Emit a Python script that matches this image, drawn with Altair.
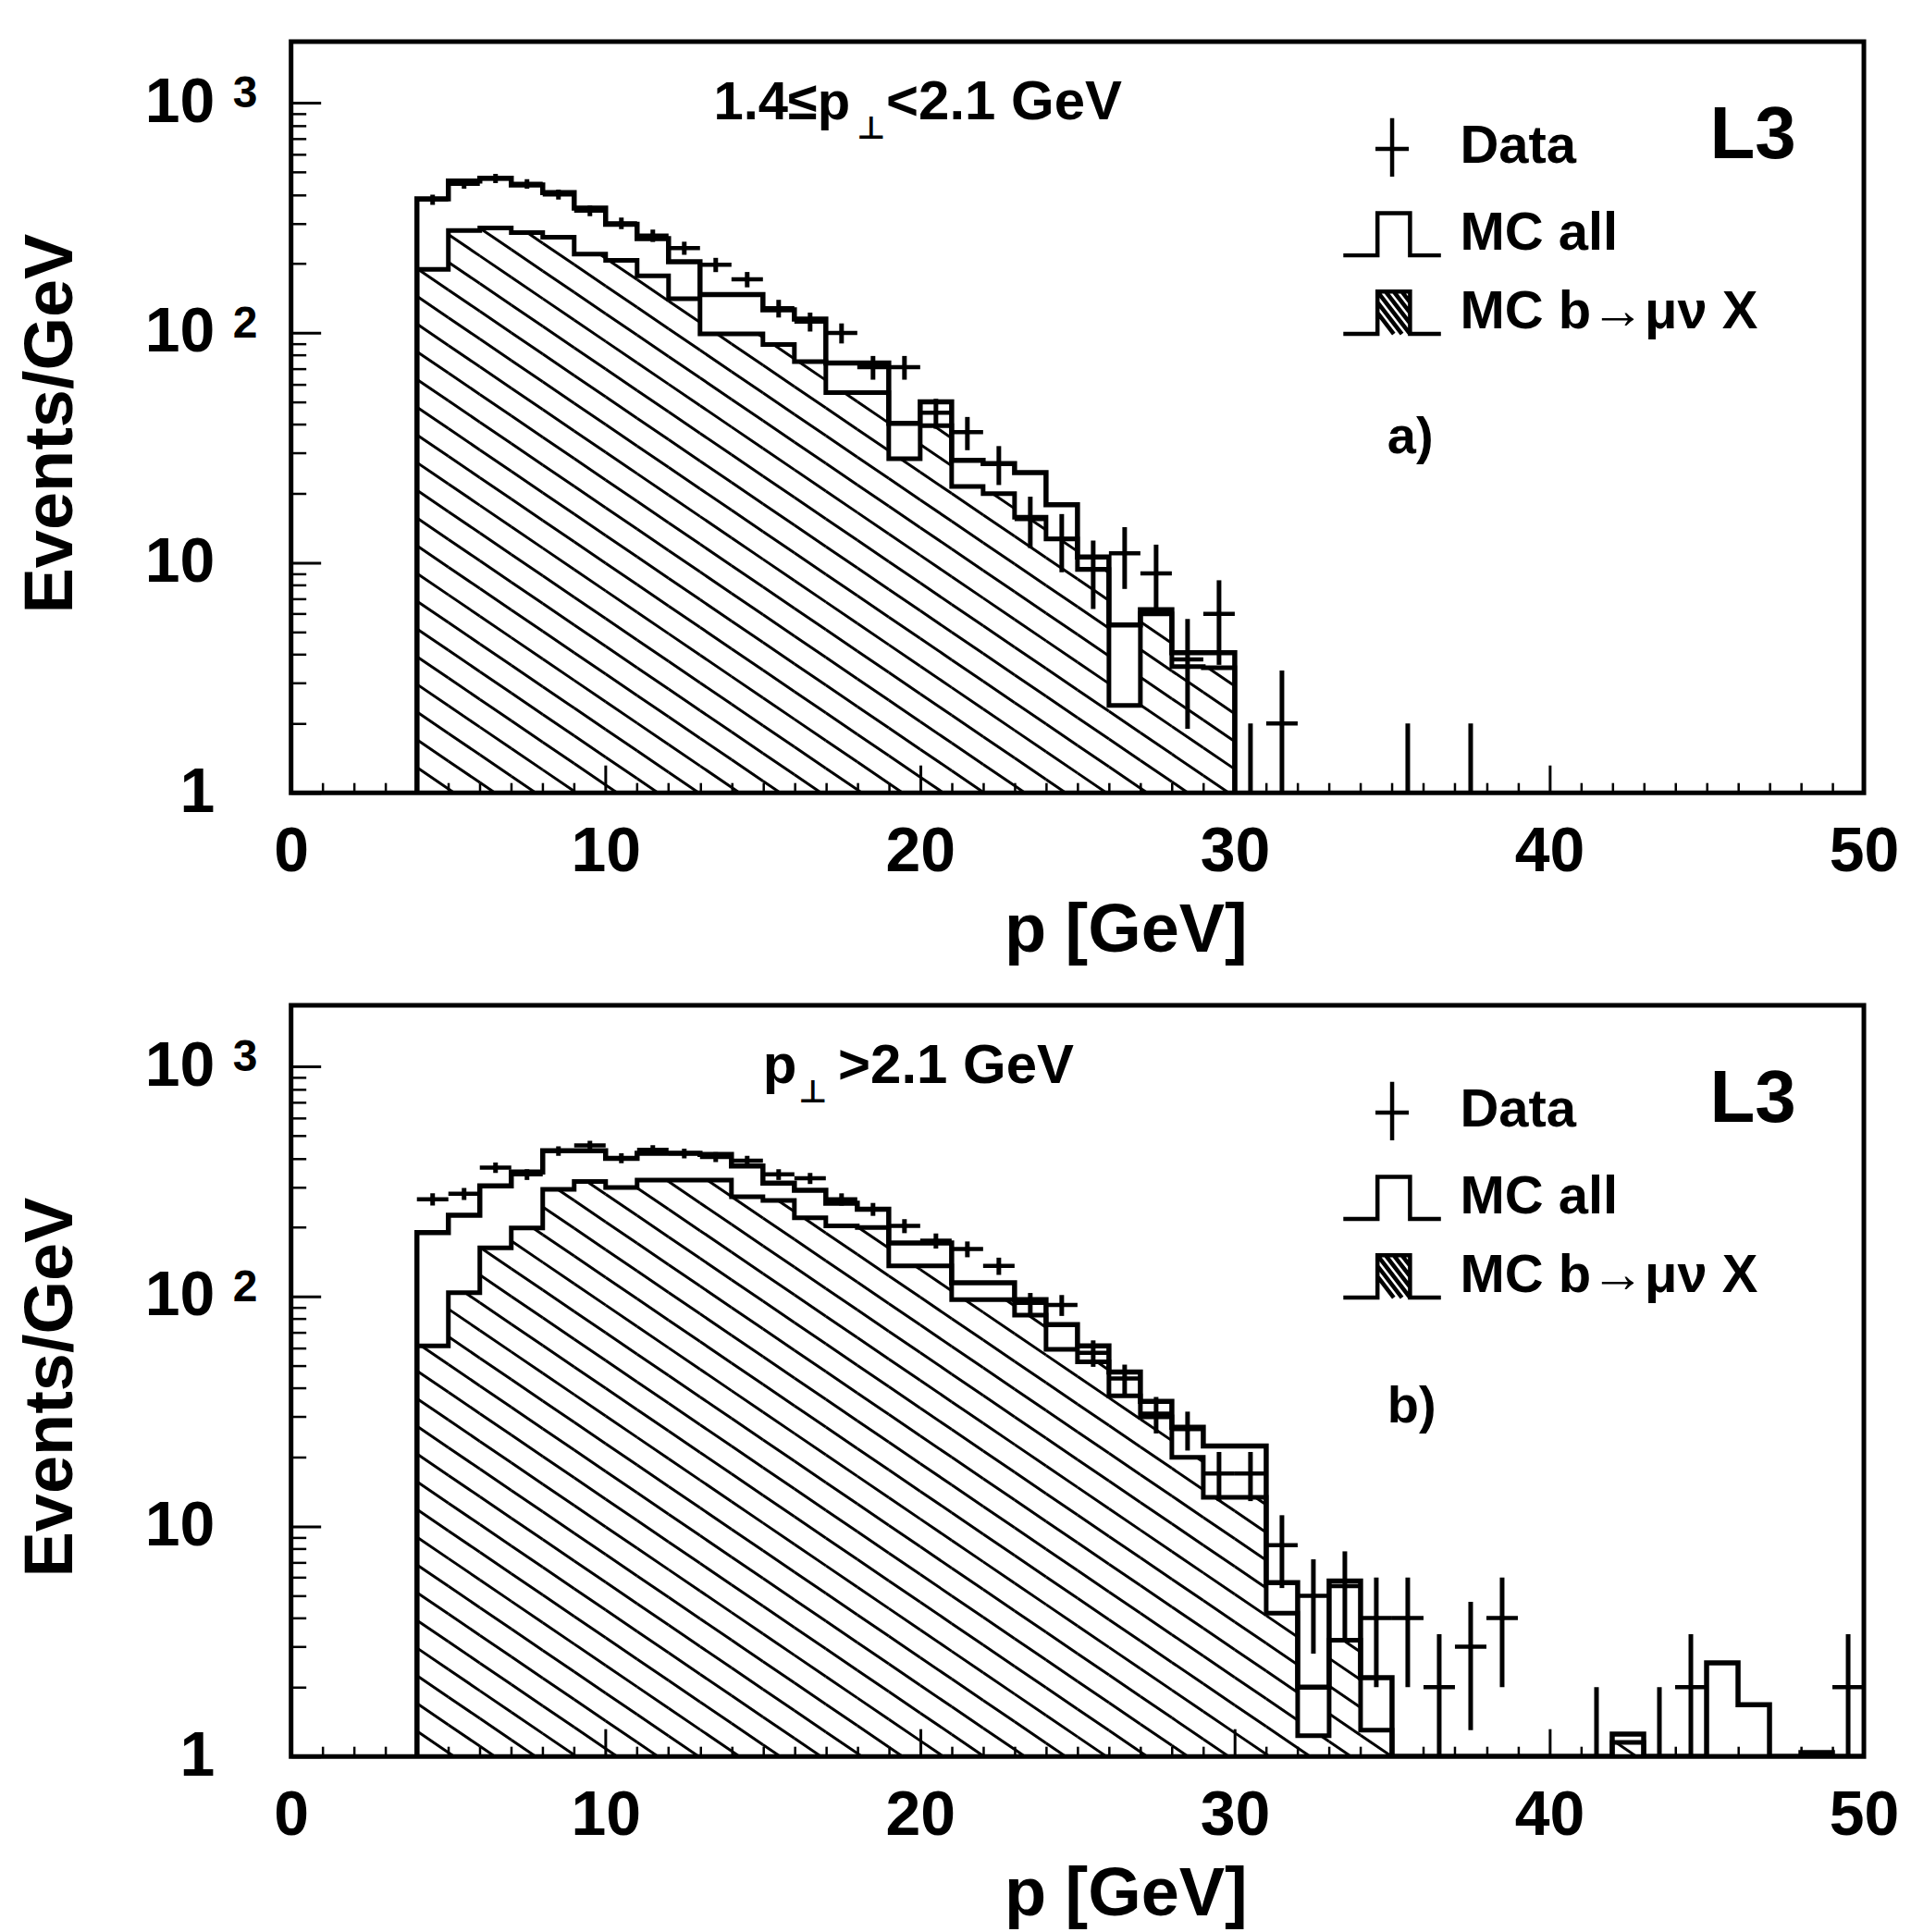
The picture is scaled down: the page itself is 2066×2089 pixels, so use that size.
import numpy as np
import pandas as pd
import altair as alt

FONT = "Liberation Sans"
FLOOR = 1.0        # bottom of the log axis
YMAX = 1850.0      # top of the log axis
PMAX = 50.0
W, H = 1702, 813   # plot area of each panel

# ---------------- values (Events/GeV, 1-GeV bins) ----------------
# panel a) 1.4 <= p_perp < 2.1 GeV, bins start at 4 GeV
a_first_edge = 4
a_mc_all = [383, 458, 471, 440, 408, 349, 297, 257, 204, 147, 147, 126, 115,
            74, 74, 40.4, 50.1, 27.9, 27, 24.7, 17.9, 10.6, 5.37, 6.26, 4.07, 4.07]
a_mc_b = [189, 279, 286, 273, 261, 220, 207, 177, 141, 99, 99, 89, 75,
          55, 55, 28.4, 39.5, 21.5, 20, 15.8, 12.7, 9.35, 2.4, 6.0, 3.54, 3.5]
a_data_p = [4.5, 5.5, 6.5, 7.5, 8.5, 9.5, 10.5, 11.5, 12.5, 13.5, 14.5, 15.5, 16.5,
            17.5, 18.5, 19.5, 20.5, 21.5, 22.5, 23.5, 24.5, 25.5, 26.5, 27.5, 28.5,
            29.5, 30.5, 31.5, 35.5, 37.5]
a_data = [380, 445, 470, 445, 400, 340, 300, 265, 234, 198, 171, 128, 112,
          100, 71, 71, 45, 37, 27, 15.5, 12.7, 9.4, 11, 9, 3.8,
          6, 1, 2, 1, 1]
a_data_err = [19.5, 21, 21.7, 21, 20, 18.4, 17.3, 16.3, 15.3, 14.1, 13.1, 11.3, 10.6,
              10, 8.4, 8.4, 6.7, 6.1, 5.2, 3.9, 3.6, 3.1, 3.3, 3, 1.9,
              2.4, 1, 1.4, 1, 1]

# panel b) p_perp > 2.1 GeV, bins start at 4 GeV (0 = empty bin)
b_first_edge = 4
b_mc_all = [190, 226, 303, 348, 431, 431, 399, 420, 420, 415,
            370, 312, 290, 255, 240, 171, 171, 115, 115, 97,
            75.5, 61, 47, 35, 27, 22.4, 22.4, 5.7, 2.0, 5.8,
            2.2, 0, 0, 0, 0, 0, 0, 0, 1.25, 0,
            0, 2.55, 1.68, 0, 1.04, 0]
b_mc_b = [61, 104, 163, 199, 293, 317, 298, 321, 321, 321,
          272, 262, 220, 203, 200, 136, 136, 97, 97, 83,
          59, 52, 37, 30, 20, 13.4, 13.4, 4.2, 1.23, 3.2,
          1.3, 0, 0, 0, 0, 0, 0, 0, 1.15, 0,
          0, 0, 0, 0, 0, 0]
b_data_p = [4.5, 5.5, 6.5, 7.5, 8.5, 9.5, 10.5, 11.5, 12.5, 13.5,
            14.5, 15.5, 16.5, 17.5, 18.5, 19.5, 20.5, 21.5, 22.5, 23.5,
            24.5, 25.5, 26.5, 27.5, 28.5, 29.5, 30.5, 31.5, 32.5, 33.5,
            34.5, 35.5, 36.5, 37.5, 38.5, 41.5, 43.5, 44.5, 49.5]
b_data = [265, 280, 364, 340, 430, 455, 400, 435, 420, 405,
          390, 340, 327, 265, 240, 203, 175, 161, 136, 94,
          92, 57, 44, 31, 26.5, 17, 17, 8.3, 5, 5.5,
          4, 4, 2, 3, 4, 1, 1, 2, 2]
b_data_err = [16.3, 16.7, 19.1, 18.4, 20.7, 21.3, 20, 20.9, 20.5, 20.1,
              19.7, 18.4, 18.1, 16.3, 15.5, 14.2, 13.2, 12.7, 11.7, 9.7,
              9.6, 7.5, 6.6, 5.6, 5.1, 4.1, 4.1, 2.9, 2.2, 2.3,
              2, 2, 1.4, 1.7, 2, 1, 1, 1.4, 1.4]

legend_labels = ["Data", "MC all", "MC b→μν X"]
x_label_values = [0, 10, 20, 30, 40, 50]
y_label_values = [1, 10, 100, 1000]

# ---------------- helpers ----------------
xsc = alt.Scale(domain=[0, PMAX], nice=False, zero=False)
ysc = alt.Scale(type="log", domain=[FLOOR, YMAX], nice=False)
DUMMY = pd.DataFrame({"p": [-10.0], "y": [10.0]})


def X(field, axis=None):
    return alt.X(field, type="quantitative", scale=xsc, axis=axis)


def Y(field, axis=None):
    return alt.Y(field, type="quantitative", scale=ysc, axis=axis)


def step_df(first_edge, vals):
    v = [max(float(x), FLOOR) for x in vals]
    n = len(v)
    edges = [first_edge + i for i in range(n + 1)]
    xs = [edges[0]] + edges[:-1] + [edges[-1], edges[-1]]
    ys = [FLOOR] + v + [v[-1], FLOOR]
    return pd.DataFrame({"p": xs, "y": ys, "i": list(range(len(xs)))})


def hatch_df(first_edge, vals, slope_px=0.68, gap_px=30.0):
    px_gev = W / PMAX
    px_dec = H / np.log10(YMAX)
    m = slope_px * px_gev / px_dec
    s = gap_px / px_dec
    nmax = int((np.log10(YMAX) + m * PMAX) / s) + 2
    rows = []
    for j in range(nmax):
        c = j * s
        for k, v in enumerate(vals):
            if v <= FLOOR:
                continue
            lo = first_edge + k
            hi = lo + 1
            L = np.log10(v)
            xa = max(lo, (c - L) / m)
            xb = min(hi, c / m)
            if xb - xa > 1e-6:
                rows.append((xa, 10 ** (c - m * xa), xb, 10 ** (c - m * xb)))
    return pd.DataFrame(rows, columns=["x1", "y1", "x2", "y2"])


def data_df(ps, vals, errs):
    d = pd.DataFrame({"p": ps, "v": vals, "e": errs})
    d["lo"] = np.maximum(d["v"] - d["e"], FLOOR)
    d["hi"] = d["v"] + d["e"]
    d["pl"] = d["p"] - 0.5
    d["pr"] = d["p"] + 0.5
    return d


def txt(x, y, s, size, dy=0, clip=True, font=FONT):
    return alt.Chart(DUMMY).mark_text(
        text=s, font=font, fontSize=size, fontWeight="bold", align="left",
        baseline="alphabetic", dy=dy, color="black", clip=clip
    ).encode(
        x=alt.XDatum(x, type="quantitative", scale=xsc, axis=None),
        y=alt.YDatum(y, type="quantitative", scale=ysc, axis=None),
    )


x_axis_main = alt.Axis(
    values=x_label_values, format="d", ticks=False, tickSize=0, domain=False, grid=False,
    labelFont=FONT, labelFontSize=68, labelFontWeight="bold", labelColor="black",
    labelPadding=30, labelFlush=False, labelOverlap=False,
    title="p [GeV]", titleFont=FONT, titleFontSize=74, titleFontWeight="bold",
    titleColor="black", titleX=903, titleY=171, titleAlign="center",
    titleBaseline="alphabetic",
)
y_axis_main = alt.Axis(
    values=y_label_values, labelExpr="datum.value == 1 ? '1' : '10'",
    ticks=False, tickSize=0, domain=False, grid=False,
    labelFont=FONT, labelFontSize=68, labelFontWeight="bold", labelColor="black",
    labelPadding=83, labelOverlap=False,
    title="Events/GeV", titleFont=FONT, titleFontSize=74, titleFontWeight="bold",
    titleColor="black", titleAngle=270, titleX=-259, titleY=413,
    titleAlign="center", titleBaseline="middle",
)

y_minor = [v * d for d in (1, 10, 100) for v in range(2, 10)]
x_minor = [v for v in range(1, 50) if v % 10]


def tick_axis(orient, values, size, width):
    return alt.Axis(orient=orient, offset=-(W if orient == "right" else H), values=values,
                    labels=False, ticks=True, tickSize=size, tickWidth=width,
                    tickColor="black", domain=False, grid=False, title=None)


P_DATA = "M0,-0.72L0,0.72M-0.41,0.04L0.41,0.04"
P_ALL = "M-1.2,0.52L-0.36,0.52L-0.36,-0.52L0.44,-0.52L0.44,0.52L1.2,0.52"
P_B = (P_ALL + "M-0.36,-0.52L0.44,0.52M-0.16,-0.52L0.44,0.26M0.04,-0.52L0.44,0"
       "M0.24,-0.52L0.44,-0.26M-0.36,-0.26L0.24,0.52M-0.36,0L0.04,0.52")


def panel(first_edge, mc_all, mc_b, dp, dv, de, cut_parts, tag):
    hatch = alt.Chart(hatch_df(first_edge, mc_b)).mark_rule(
        strokeWidth=3, color="black", clip=True
    ).encode(x=X("x1"), y=Y("y1"), x2="x2:Q", y2="y2:Q")
    line_b = alt.Chart(step_df(first_edge, mc_b)).mark_line(
        interpolate="step-after", strokeWidth=5, color="black", clip=True, strokeJoin="miter"
    ).encode(x=X("p"), y=Y("y"), order="i:Q")
    line_all = alt.Chart(step_df(first_edge, mc_all)).mark_line(
        interpolate="step-after", strokeWidth=5.5, color="black", clip=True, strokeJoin="miter"
    ).encode(x=X("p", x_axis_main), y=Y("y", y_axis_main), order="i:Q")
    d = data_df(dp, dv, de)
    err_v = alt.Chart(d).mark_rule(strokeWidth=5, color="black", clip=True).encode(
        x=X("p"), y=Y("lo"), y2="hi:Q")
    err_h = alt.Chart(d).mark_rule(strokeWidth=4.5, color="black", clip=True).encode(
        x=X("pl"), x2="pr:Q", y=Y("v"))
    marker = alt.Chart(d).mark_point(shape="diamond", filled=True, size=70, color="black",
                                     opacity=1, clip=True).encode(x=X("p"), y=Y("v"))
    leg_df = pd.DataFrame({"p": [-10.0] * 3, "y": [10.0] * 3, "s": legend_labels})
    legend_layer = alt.Chart(leg_df).mark_point(filled=False, color="black", strokeWidth=4.5,
                                                opacity=1, clip=True).encode(
        x=X("p"), y=Y("y"),
        shape=alt.Shape("s:N", scale=alt.Scale(domain=legend_labels, range=[P_DATA, P_ALL, P_B]),
                        legend=alt.Legend(
                            orient="none", legendX=1145, legendY=68, title=None,
                            symbolSize=7744, symbolStrokeWidth=4.5, symbolStrokeColor="black",
                            symbolFillColor="transparent", symbolOpacity=1,
                            labelFont=FONT, labelFontSize=58,
                            labelFontWeight="bold", labelColor="black", labelOffset=27,
                            labelLimit=0, rowPadding=6, padding=0)))
    texts = [txt(x, y, s, size, font=f) for (s, x, y, size, f) in cut_parts]
    texts += [
        txt(45.1, 577, "L3", 80),
        txt(34.85, 30 if tag == "a)" else 28.4, tag, 56),
        txt(-1.85, 1000, "3", 48, dy=5, clip=False),
        txt(-1.85, 100, "2", 48, dy=5, clip=False),
    ]
    ticks = [
        alt.Chart(DUMMY).mark_point(opacity=0, clip=True).encode(
            x=X("p"), y=Y("y", tick_axis("right", y_label_values, 32, 3))),
        alt.Chart(DUMMY).mark_point(opacity=0, clip=True).encode(
            x=X("p"), y=Y("y", tick_axis("right", y_minor, 16, 2.5))),
        alt.Chart(DUMMY).mark_point(opacity=0, clip=True).encode(
            x=X("p", tick_axis("top", [10, 20, 30, 40], 30, 3)), y=Y("y")),
        alt.Chart(DUMMY).mark_point(opacity=0, clip=True).encode(
            x=X("p", tick_axis("top", x_minor, 11, 2.5)), y=Y("y")),
    ]
    return alt.layer(hatch, line_b, line_all, err_v, err_h, marker, *texts, legend_layer,
                     *ticks).resolve_axis(x="independent", y="independent").properties(
        width=W, height=H)


top = panel(a_first_edge, a_mc_all, a_mc_b, a_data_p, a_data, a_data_err,
            [("1.4≤p", 13.43, 850, 58, FONT), ("⊥", 17.98, 700, 34, "DejaVu Sans"),
             ("<2.1 GeV", 18.92, 850, 60, FONT)], "a)")
bottom = panel(b_first_edge, b_mc_all, b_mc_b, b_data_p, b_data, b_data_err,
               [("p", 15.0, 850, 60, FONT), ("⊥", 16.13, 700, 34, "DejaVu Sans"),
                (">2.1 GeV", 17.39, 850, 60, FONT)], "b)")

chart = alt.vconcat(top, bottom, spacing=230, bounds="flush").resolve_scale(
    shape="independent"
).properties(
    padding={"left": 16, "top": 41, "right": 10, "bottom": 2},
    background="white",
).configure(font=FONT).configure_view(stroke="black", strokeWidth=5)

chart.save("out.html", embed_options={"renderer": "svg", "actions": False})
